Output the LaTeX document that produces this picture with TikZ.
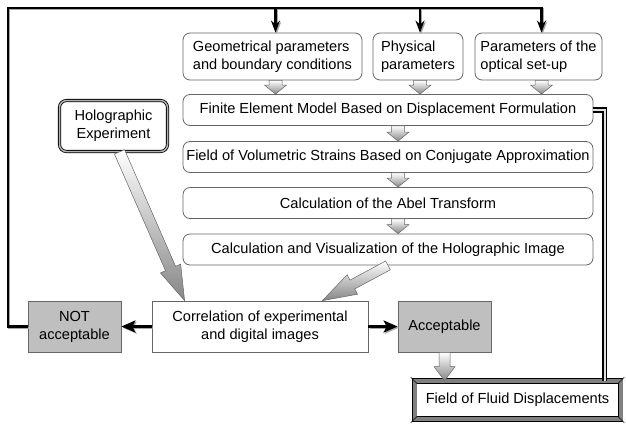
\documentclass[tikz,border=0pt]{standalone}
\usepackage{fontspec}
\setmainfont{Liberation Sans}
\usetikzlibrary{arrows.meta,calc}

\tikzset{
  box/.style={draw=gray!80!black, line width=0.8pt, rounded corners=7pt, fill=white, align=center, inner sep=2pt},
  holobox/.style={draw=black, double=gray!60, double distance=1.5pt, line width=0.8pt, rounded corners=7pt, fill=white, align=center},
  plainbox/.style={draw=gray!80!black, line width=0.8pt, fill=white, align=center},
  greybox/.style={draw=gray!80!black, line width=0.8pt, fill=gray!50, align=center, minimum width=93, minimum height=51},
  resultbox/.style={draw=black, double=gray, double distance=4pt, line width=0.7pt, fill=white, minimum width=206, minimum height=38},
  wire/.style={draw=black, line width=2.4pt, preaction={draw=gray!70, line width=2.4pt, transform canvas={shift={(1.2pt,-1.2pt)}}}},
  dwire/.style={draw=black, double=gray!25, line width=1.9pt, double distance=1.4pt},
  garrow/.style={draw=gray!80!black, line width=0.5pt, top color=white, bottom color=gray!95}
}

% gray block arrow: from, to, half shaft, half head, head length
\newcommand{\blockarrow}[5]{%
  \shadedraw[garrow] ($(#1)!#3!90:(#2)$)
    -- ($(#2)!#5!(#1)!#3!-90:(#1)$)
    -- ($(#2)!#5!(#1)!#4!-90:(#1)$)
    -- (#2)
    -- ($(#2)!#5!(#1)!#4!90:(#1)$)
    -- ($(#2)!#5!(#1)!#3!90:(#1)$)
    -- ($(#1)!#3!-90:(#2)$) -- cycle;}

\begin{document}
\begin{tikzpicture}[x=1pt,y=-1pt,font=\fontsize{14.6pt}{18pt}\selectfont]
  \useasboundingbox (0,0) rectangle (626,424);
  % Draw the input boxes
  \node[box,align=left,minimum width=179,minimum height=47] (geo) at (272.5,56.5) {Geometrical parameters\\and boundary conditions};
  \node[box,align=left,minimum width=90,minimum height=47] (phys) at (418,56.5) {Physical\\parameters};
  \node[box,align=left,minimum width=127,minimum height=47] (optic) at (538.5,56.5) {Parameters of the\\optical set-up};
  % Draw the model chain
  \node[box,minimum width=410,minimum height=31] (fem) at (388,110) {Finite Element Model Based on Displacement Formulation};
  \node[box,minimum width=410,minimum height=31] (vol) at (388,157) {Field of Volumetric Strains Based on Conjugate Approximation};
  \node[box,minimum width=410,minimum height=31] (abel) at (388,203) {Calculation of the Abel Transform};
  \node[box,minimum width=410,minimum height=31] (vis) at (388,249.5) {Calculation and Visualization of the Holographic Image};
  % Draw the experiment and the comparison
  \node[holobox,minimum width=108,minimum height=51] (holo) at (113.5,126) {Holographic\\Experiment};
  \node[plainbox,minimum width=216,minimum height=51] (corr) at (260,326.5) {Correlation of experimental\\and digital images};
  \node[greybox] (notacc) at (74.5,326.5) {NOT\\acceptable};
  \node[greybox] (acc) at (444.5,326.5) {Acceptable};
  \node[resultbox] (fluid) at (517.5,400) {Field of Fluid Displacements};
  \foreach \c/\sx/\sy in {north west/-1/-1, north east/1/-1, south west/-1/1, south east/1/1}
    \draw[black,line width=0.5pt] ([shift={(3.5*\sx,3.5*\sy)}]fluid.\c) -- ([shift={(-3*\sx,-3*\sy)}]fluid.\c);
  % Draw the feedback loop
  \coordinate (corner) at (8,8);
  \draw[wire] (notacc.west) -| (corner) -- ([xshift=4]optic.north |- corner);
  \foreach \n/\s in {geo/3, phys/2, optic/3}
    \draw[wire,-{Stealth[length=12pt,width=9pt]}] ([xshift=\s]\n.north |- corner) -- ([xshift=\s]\n.north);
  \draw[dwire] (fem.east) -| ([xshift=-16]fluid.north east);
  % Draw the decision arrows
  \draw[wire,-{Stealth[length=14pt,width=12pt,inset=3pt]}] (corr.west) -- (notacc.east);
  \draw[wire,-{Stealth[length=14pt,width=12pt,inset=3pt]}] (corr.east) -- (acc.west);
  % Draw the gray block arrows
  \foreach \n/\s in {geo/3, phys/2, optic/3} {
    \coordinate (s) at ([xshift=\s]\n.south);
    \coordinate (t) at (s |- fem.north);
    \blockarrow{s}{t}{6.5pt}{11pt}{9pt}
  }
  \foreach \a/\b in {fem/vol, vol/abel, abel/vis} {
    \coordinate (s) at ([xshift=10]\a.south);
    \coordinate (t) at (s |- \b.north);
    \blockarrow{s}{t}{6.5pt}{11pt}{9pt}
  }
  \coordinate (h1) at ([xshift=6]holo.south);
  \coordinate (h2) at ([xshift=33]corr.north west);
  \blockarrow{h1}{h2}{5.5pt}{11pt}{35pt}
  \coordinate (v1) at (vis.south);
  \coordinate (v2) at ([xshift=-46]corr.north east);
  \blockarrow{v1}{v2}{5pt}{11pt}{34pt}
  \coordinate (a1) at (acc.south);
  \coordinate (a2) at (acc.south |- fluid.north);
  \blockarrow{a1}{a2}{5.5pt}{10.5pt}{14pt}
\end{tikzpicture}
\end{document}
